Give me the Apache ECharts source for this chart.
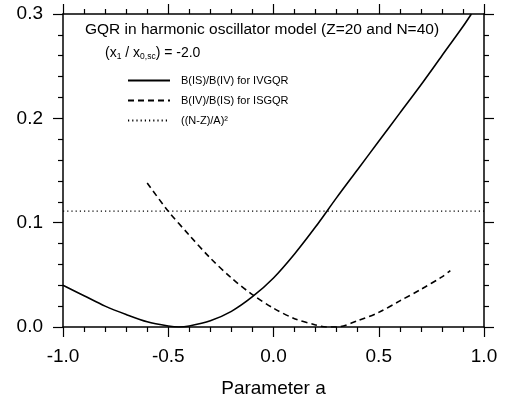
<!DOCTYPE html>
<html><head><meta charset="utf-8">
<script src="https://cdn.jsdelivr.net/npm/echarts@6/dist/echarts.min.js"></script>
<style>html,body{margin:0;padding:0;background:#fff}#c{width:508px;height:403px}</style>
</head><body><div id="c"></div>
<script>
// B(IS)/B(IV) for IVGQR (solid)
const ivX = [-1.0,-0.9,-0.8,-0.7,-0.6,-0.5,-0.45,-0.4,-0.3,-0.2,-0.1,0.0,0.1,0.2,0.3,0.4,0.5,0.6,0.7,0.8,0.9,0.94];
const ivY = [0.040,0.030,0.020,0.012,0.005,0.001,0.000,0.001,0.006,0.015,0.029,0.047,0.070,0.096,0.124,0.151,0.178,0.205,0.232,0.260,0.288,0.300];
// B(IV)/B(IS) for ISGQR (dashed)
const isX = [-0.6,-0.5,-0.4,-0.3,-0.2,-0.1,0.0,0.1,0.2,0.25,0.3,0.4,0.5,0.6,0.7,0.8,0.84];
const isY = [0.138,0.111,0.088,0.066,0.047,0.031,0.018,0.008,0.002,0.000,0.000,0.006,0.014,0.025,0.036,0.048,0.054];
// ((N-Z)/A)^2 (dotted)
const refX = [-1.0, 1.0];
const refY = [0.111, 0.111];
const seriesNames = ['B(IS)/B(IV) for IVGQR', 'B(IV)/B(IS) for ISGQR', '((N-Z)/A)\u00b2'];
const xTicks = {min: -1.0, max: 1.0, interval: 0.5};
const yTicks = {min: 0.0, max: 0.3, interval: 0.1};
const titleText = 'GQR in harmonic oscillator model (Z=20 and N=40)';

const FF = '"Liberation Sans", Arial, Helvetica, sans-serif';
const pair = (xs, ys) => xs.map((x, i) => [x, ys[i]]);
const axisCommon = {
  type: 'value',
  axisLine: {show: true, onZero: false, lineStyle: {color: '#000', width: 1.5}},
  axisTick: {show: true, inside: false, length: 10, lineStyle: {color: '#000', width: 1.2}},
  minorTick: {show: true, splitNumber: 5, length: 5, lineStyle: {color: '#000', width: 1.2}},
  splitLine: {show: false},
  minorSplitLine: {show: false}
};
const chart = echarts.init(document.getElementById('c'), null, {renderer: 'canvas'});
chart.setOption({
  animation: false,
  backgroundColor: '#fff',
  textStyle: {fontFamily: FF},
  grid: {left: 63, right: 24, top: 14, bottom: 72, containLabel: false},
  title: [
    {text: titleText, left: 85, top: 22, padding: 0,
     textStyle: {fontSize: 15.5, fontWeight: 'normal', color: '#000', fontFamily: FF}},
    {text: '{n|(x}{s|1}{n| / x}{s|0,sc}{n|) = -2.0}', left: 105, top: 45, padding: 0,
     textStyle: {fontWeight: 'normal', color: '#000', fontFamily: FF,
       rich: {n: {fontSize: 14, color: '#000', fontFamily: FF},
              s: {fontSize: 8.5, color: '#000', fontFamily: FF, padding: [7, 0, 0, 0]}}}}
  ],
  legend: {
    orient: 'vertical', left: 127, top: 75, padding: 0,
    itemWidth: 42, itemHeight: 12, itemGap: 9,
    data: seriesNames,
    itemStyle: {opacity: 0},
    textStyle: {fontSize: 11, color: '#000', fontFamily: FF, padding: [0, 0, 0, 6]}
  },
  xAxis: [
    Object.assign({}, axisCommon, {position: 'bottom', min: xTicks.min, max: xTicks.max, interval: xTicks.interval,
      name: 'Parameter a', nameLocation: 'middle', nameGap: 52,
      nameTextStyle: {fontSize: 19, color: '#000', fontFamily: FF},
      axisLabel: {show: true, margin: 20, fontSize: 19, color: '#000', fontFamily: FF,
        formatter: v => v.toFixed(1)}}),
    Object.assign({}, axisCommon, {position: 'top', min: xTicks.min, max: xTicks.max, interval: xTicks.interval,
      axisLabel: {show: false}})
  ],
  yAxis: [
    Object.assign({}, axisCommon, {position: 'left', min: yTicks.min, max: yTicks.max, interval: yTicks.interval,
      axisLabel: {show: true, margin: 20, fontSize: 19, color: '#000', fontFamily: FF,
        formatter: v => v.toFixed(1)}}),
    Object.assign({}, axisCommon, {position: 'right', min: yTicks.min, max: yTicks.max, interval: yTicks.interval,
      axisLabel: {show: false}})
  ],
  series: [
    {name: seriesNames[0], type: 'line', data: pair(ivX, ivY), smooth: 0.3, symbol: 'none', clip: true,
     lineStyle: {color: '#000', width: 1.6, type: 'solid'}, itemStyle: {color: '#000'}},
    {name: seriesNames[1], type: 'line', data: pair(isX, isY), smooth: 0.3, symbol: 'none', clip: true,
     lineStyle: {color: '#000', width: 1.6, type: [6, 4]}, itemStyle: {color: '#000'}},
    {name: seriesNames[2], type: 'line', data: pair(refX, refY), symbol: 'none', clip: true,
     lineStyle: {color: '#000', width: 1.2, type: [1.2, 3]}, itemStyle: {color: '#000'}}
  ]
});
</script></body></html>
